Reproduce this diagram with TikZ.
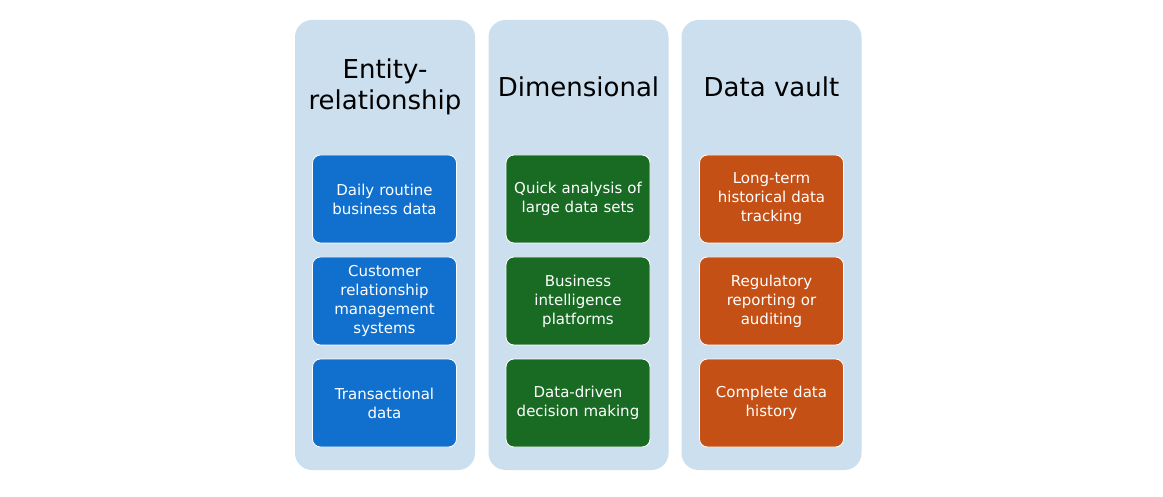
\documentclass[tikz,border=0pt]{standalone}
\usepackage{fontspec}
\setmainfont{DejaVu Sans}
\definecolor{panel}{HTML}{CCDFEE}
\definecolor{erblue}{HTML}{1170CD}
\definecolor{dimgreen}{HTML}{196B24}
\definecolor{vaultorange}{HTML}{C55015}
\tikzset{
  panelbox/.style={fill=panel, draw=none, rounded corners=17pt,
    minimum width=180pt, minimum height=450pt, inner sep=0pt},
  paneltitle/.style={font=\fontsize{26}{31}\selectfont, align=center, text=black},
  itembox/.style={draw=white, line width=0.8pt, rounded corners=8pt,
    minimum width=144pt, minimum height=88pt, inner sep=0pt,
    text width=136pt, align=center, text=white,
    font=\fontsize{15}{19}\selectfont},
}
\begin{document}
\begin{tikzpicture}[x=1pt,y=-1pt]
\useasboundingbox (0,0) rectangle (1163,497);
\fill[white] (0,0) rectangle (1163,497);

% three panels
\node[panelbox] (p1) at (385,245) {};
\node[panelbox] (p2) at (578.5,245) {};
\node[panelbox] (p3) at (771.5,245) {};

% panel titles
\node[paneltitle] (t1) at (385,87) {Entity-\\relationship};
\node[paneltitle] (t2) at (578.5,87) {Dimensional};
\node[paneltitle] (t3) at (771.5,87) {Data vault};

% entity-relationship items
\node[itembox, fill=erblue] (a1) at (384.5,199) {Daily routine\\business data};
\node[itembox, fill=erblue] (a2) at (384.5,301) {Customer\\relationship\\management\\systems};
\node[itembox, fill=erblue] (a3) at (384.5,403) {Transactional\\data};

% dimensional items
\node[itembox, fill=dimgreen] (b1) at (578,199) {Quick analysis of\\large data sets};
\node[itembox, fill=dimgreen] (b2) at (578,301) {Business\\intelligence\\platforms};
\node[itembox, fill=dimgreen] (b3) at (578,403) {Data-driven\\decision making};

% data vault items
\node[itembox, fill=vaultorange] (c1) at (771.5,199) {Long-term\\historical data\\tracking};
\node[itembox, fill=vaultorange] (c2) at (771.5,301) {Regulatory\\reporting or\\auditing};
\node[itembox, fill=vaultorange] (c3) at (771.5,403) {Complete data\\history};
\end{tikzpicture}
\end{document}
